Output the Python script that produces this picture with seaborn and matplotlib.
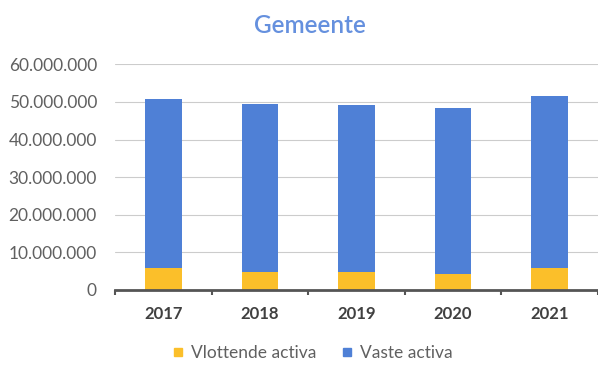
import matplotlib
matplotlib.use("Agg")
import matplotlib.pyplot as plt
from matplotlib.ticker import FuncFormatter, FixedLocator
from matplotlib.lines import Line2D
import seaborn as sns
import pandas as pd

years = ["2017", "2018", "2019", "2020", "2021"]
vlottende_activa = [5_800_000, 4_600_000, 4_600_000, 4_200_000, 5_800_000]
vaste_activa = [45_000_000, 44_900_000, 44_600_000, 44_100_000, 45_700_000]

blue = "#4f80d6"
yellow = "#fbbf2a"

df = pd.DataFrame({
    "jaar": years,
    "vlottende": vlottende_activa,
    "vaste": vaste_activa,
})
df["totaal"] = df["vlottende"] + df["vaste"]

sns.set_theme(style="white")
plt.rcParams["font.family"] = ["Lato", "DejaVu Sans"]

fig = plt.figure(figsize=(5.98, 3.65), dpi=100)
ax = fig.add_axes([0.1923, 0.2068, 0.8077, 0.6165])

# stacked bars: full height in blue, floating assets drawn over the base
sns.barplot(data=df, x="jaar", y="totaal", color=blue, width=0.38,
            saturation=1, ax=ax, zorder=3, edgecolor="none", linewidth=0)
sns.barplot(data=df, x="jaar", y="vlottende", color=yellow, width=0.38,
            saturation=1, ax=ax, zorder=4, edgecolor="none", linewidth=0)

ax.set_ylim(0, 60_000_000)
ax.set_xlim(-0.5, 4.5)
ax.set_yticks(range(0, 60_000_001, 10_000_000))
ax.yaxis.set_major_formatter(
    FuncFormatter(lambda v, _: f"{int(v):,}".replace(",", ".")))
ax.grid(axis="y", color="#cccccc", linewidth=0.8, zorder=0)
ax.set_xlabel("")
ax.set_ylabel("")

for side in ("left", "right", "top"):
    ax.spines[side].set_visible(False)
ax.spines["bottom"].set_color("#555555")
ax.spines["bottom"].set_linewidth(2)
ax.spines["bottom"].set_zorder(5)

ax.tick_params(axis="y", length=0, labelsize=12.5, labelcolor="#606060", pad=13)
ax.tick_params(axis="x", which="major", length=0, labelsize=12,
               labelcolor="#404040", pad=12)
for lbl in ax.get_xticklabels():
    lbl.set_fontweight("bold")
ax.xaxis.set_minor_locator(FixedLocator([-0.5, 0.5, 1.5, 2.5, 3.5, 4.5]))
ax.tick_params(axis="x", which="minor", bottom=True, length=3.5, width=1.5,
               color="#555555", direction="out")

fig.text(0.518, 0.93, "Gemeente", ha="center", va="center",
         fontsize=17.5, color="#6590de", fontweight="semibold")

handles = [
    Line2D([], [], marker="s", linestyle="", markersize=5.5,
           markerfacecolor=yellow, markeredgecolor=yellow),
    Line2D([], [], marker="s", linestyle="", markersize=5.5,
           markerfacecolor=blue, markeredgecolor=blue),
]
fig.legend(handles, ["Vlottende activa", "Vaste activa"], loc="center",
           bbox_to_anchor=(0.523, 0.032), ncol=2, frameon=False, fontsize=12.5,
           handlelength=0.6, handletextpad=0.45, columnspacing=1.5,
           labelcolor="#606060")

fig.savefig("out.png", dpi=100, facecolor="white")
